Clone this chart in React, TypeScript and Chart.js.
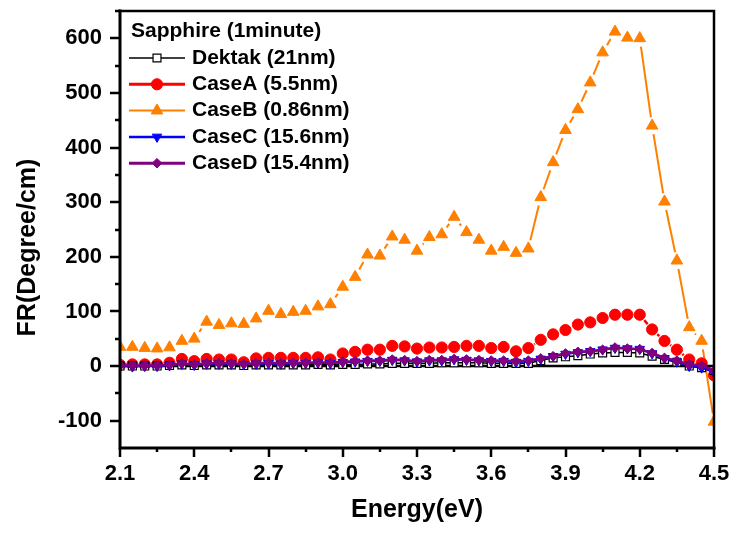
import React, { useEffect, useRef } from 'react';
import { Chart, registerables } from 'chart.js';
import { drawPoint } from 'chart.js/helpers';

Chart.register(...registerables);

// Photon energy (eV)
const energy = [
  2.1, 2.15, 2.2, 2.25, 2.3, 2.35, 2.4, 2.45, 2.5, 2.55, 2.6, 2.65, 2.7, 2.75, 2.8, 2.85, 2.9, 2.95,
  3.0, 3.05, 3.1, 3.15, 3.2, 3.25, 3.3, 3.35, 3.4, 3.45, 3.5, 3.55, 3.6, 3.65, 3.7, 3.75,
  3.8, 3.85, 3.9, 3.95, 4.0, 4.05, 4.1, 4.15, 4.2, 4.25, 4.3, 4.35, 4.4, 4.45, 4.5,
];

// Faraday rotation (Degree/cm) for each thickness estimate
const dektak = [
  0, 0, 0, 0, 1, 2, 1, 2, 2, 2, 1, 2, 2, 2, 2, 2, 3, 2,
  3, 3, 4, 4, 5, 5, 5, 5, 6, 6, 6, 6, 5, 5, 5, 5,
  10, 15, 17, 19, 22, 24, 25, 25, 24, 18, 12, 7, 0, -3, -8,
];
const caseA = [
  2, 3, 3, 3, 6, 13, 9, 13, 12, 12, 7, 14, 15, 15, 15, 15, 16, 12,
  23, 26, 30, 30, 37, 36, 32, 34, 34, 35, 37, 37, 33, 35, 27, 33,
  48, 58, 66, 76, 80, 88, 94, 94, 94, 67, 46, 30, 12, 5, -17,
];
const caseB = [
  35, 35, 33, 32, 34, 46, 50, 81, 75, 78, 77, 87, 101, 95, 99, 101, 109, 113,
  145, 163, 204, 202, 237, 231, 211, 236, 241, 273, 245, 231, 211, 218, 207, 215,
  309, 373, 432, 470, 519, 574, 612, 601, 600, 440, 301, 193, 71, 46, -102,
];
const caseC = [
  0, -1, 0, 0, 1, 4, 2, 4, 4, 4, 3, 4, 5, 4, 5, 5, 6, 5,
  7, 8, 9, 9, 11, 10, 8, 10, 10, 12, 11, 10, 9, 9, 7, 9,
  13, 18, 22, 25, 27, 30, 33, 32, 31, 23, 14, 8, 0, -3, -11,
];
const caseD = [
  1, 1, 1, 1, 2, 5, 3, 5, 5, 5, 4, 5, 6, 5, 6, 6, 7, 6,
  8, 9, 10, 10, 12, 11, 9, 11, 11, 13, 12, 11, 10, 10, 9, 10,
  14, 18, 23, 26, 27, 30, 34, 32, 31, 24, 15, 10, 3, 1, -8,
];

const seriesLabels = ['Dektak (21nm)', 'CaseA (5.5nm)', 'CaseB (0.86nm)', 'CaseC (15.6nm)', 'CaseD (15.4nm)'];
const legendTitle = 'Sapphire (1minute)';
const xTitle = 'Energy(eV)';
const yTitle = 'FR(Degree/cm)';

const xMajorTicks = [2.1, 2.4, 2.7, 3.0, 3.3, 3.6, 3.9, 4.2, 4.5];
const yMajorTicks = [-100, 0, 100, 200, 300, 400, 500, 600];
const xRange = [2.1, 4.5];
const yRange = [-150, 650];

const FONT = '"Liberation Sans", Arial, Helvetica, sans-serif';

const toPoints = (vals: number[]) => vals.map((v, i) => ({ x: energy[i], y: v }));

// Line segments that stop short of the markers at both ends
const gapped = (gap: number) => {
  const segLen = (c: any) => Math.hypot(c.p1.x - c.p0.x, c.p1.y - c.p0.y);
  return {
    borderDash: (c: any) => {
      const len = segLen(c);
      const dash = Math.max(len - 2 * gap, 0);
      return [dash, len - dash + 0.0001];
    },
    borderDashOffset: (c: any) => {
      const len = segLen(c);
      return len > 2 * gap ? len - gap : 0;
    },
  };
};

const isMajor = (v: number, list: number[]) => list.some((m) => Math.abs(m - v) < 1e-6);

const axesPlugin = {
  id: 'axesDecor',
  beforeDatasetsDraw(chart: any) {
    const { ctx, chartArea: a, scales } = chart;
    const y0 = scales.y.getPixelForValue(0);
    ctx.save();
    ctx.strokeStyle = '#000';
    ctx.lineWidth = 2.5;
    ctx.beginPath();
    ctx.moveTo(a.left, y0);
    ctx.lineTo(a.right, y0);
    ctx.stroke();
    ctx.restore();
  },
  afterDraw(chart: any) {
    const { ctx, chartArea: a, scales } = chart;
    const { x, y } = scales;
    ctx.save();
    ctx.strokeStyle = '#000';
    ctx.lineCap = 'square';
    // frame
    ctx.lineWidth = 2.5;
    ctx.beginPath();
    ctx.moveTo(a.left, a.top);
    ctx.lineTo(a.right, a.top);
    ctx.lineTo(a.right, a.bottom);
    ctx.stroke();
    ctx.lineWidth = 3;
    ctx.beginPath();
    ctx.moveTo(a.left, a.top);
    ctx.lineTo(a.left, a.bottom);
    ctx.lineTo(a.right, a.bottom);
    ctx.stroke();
    // tick marks, outward
    ctx.lineCap = 'butt';
    ctx.lineWidth = 2.5;
    ctx.beginPath();
    y.ticks.forEach((t: any) => {
      if (t.value <= yRange[0]) return;
      const py = Math.round(y.getPixelForValue(t.value));
      const len = isMajor(t.value, yMajorTicks) ? 10 : 5;
      ctx.moveTo(a.left, py);
      ctx.lineTo(a.left - len, py);
    });
    x.ticks.forEach((t: any) => {
      const px = Math.round(x.getPixelForValue(t.value));
      const len = isMajor(t.value, xMajorTicks) ? 9 : 4;
      ctx.moveTo(px, a.bottom);
      ctx.lineTo(px, a.bottom + len);
    });
    ctx.stroke();

    // axis titles
    ctx.fillStyle = '#000';
    ctx.font = `bold 25px ${FONT}`;
    ctx.textAlign = 'center';
    ctx.textBaseline = 'alphabetic';
    ctx.fillText(xTitle, (a.left + a.right) / 2, 517);
    ctx.save();
    ctx.translate(35, (a.top + a.bottom) / 2 + 18);
    ctx.rotate(-Math.PI / 2);
    ctx.fillText(yTitle, 0, 0);
    ctx.restore();

    // legend
    ctx.font = `bold 21px ${FONT}`;
    ctx.textAlign = 'left';
    ctx.textBaseline = 'middle';
    ctx.fillText(legendTitle, 131, 31);
    chart.data.datasets.forEach((ds: any, i: number) => {
      const ly = 58 + i * 26.3;
      ctx.setLineDash([]);
      ctx.strokeStyle = ds.borderColor;
      ctx.lineWidth = ds.legendLineWidth;
      ctx.beginPath();
      ctx.moveTo(129, ly);
      ctx.lineTo(185, ly);
      ctx.stroke();
      ctx.fillStyle = ds.pointBackgroundColor;
      ctx.strokeStyle = ds.pointBorderColor;
      ctx.lineWidth = ds.pointBorderWidth;
      drawPoint(
        ctx,
        {
          pointStyle: ds.pointStyle,
          rotation: ds.pointRotation || 0,
          radius: ds.pointRadius,
          borderWidth: ds.pointBorderWidth,
        } as any,
        157,
        ly,
      );
      ctx.fillStyle = '#000';
      ctx.fillText(ds.label, 192, ly);
    });
    ctx.restore();
  },
};

export default function App() {
  const canvasRef = useRef<HTMLCanvasElement | null>(null);

  useEffect(() => {
    const canvas = canvasRef.current;
    if (!canvas) return;

    const common = { clip: 0, tension: 0, pointHoverRadius: 0 };

    const chart = new Chart(canvas, {
      type: 'line',
      data: {
        datasets: [
          {
            ...common,
            label: seriesLabels[0],
            data: toPoints(dektak),
            borderColor: '#000000',
            borderWidth: 1.5,
            legendLineWidth: 1.5,
            pointStyle: 'rect',
            pointRadius: 5.6,
            pointBackgroundColor: '#ffffff',
            pointBorderColor: '#000000',
            pointBorderWidth: 1.2,
            order: 2,
          } as any,
          {
            ...common,
            label: seriesLabels[1],
            data: toPoints(caseA),
            borderColor: '#ff0000',
            borderWidth: 2.5,
            legendLineWidth: 3,
            pointStyle: 'circle',
            pointRadius: 5.6,
            pointBackgroundColor: '#ff0000',
            pointBorderColor: '#ff0000',
            pointBorderWidth: 1,
            segment: gapped(7),
            order: 3,
          } as any,
          {
            ...common,
            label: seriesLabels[2],
            data: toPoints(caseB),
            borderColor: '#ff8000',
            borderWidth: 2,
            legendLineWidth: 2,
            pointStyle: 'triangle',
            pointRadius: 6.7,
            pointBackgroundColor: '#ff8000',
            pointBorderColor: '#ff8000',
            pointBorderWidth: 1,
            segment: gapped(8.5),
            order: 4,
          } as any,
          {
            ...common,
            label: seriesLabels[3],
            data: toPoints(caseC),
            borderColor: '#0000ff',
            borderWidth: 2,
            legendLineWidth: 2.5,
            pointStyle: 'triangle',
            pointRotation: 180,
            pointRadius: 5.5,
            pointBackgroundColor: '#0000ff',
            pointBorderColor: '#0000ff',
            pointBorderWidth: 1,
            order: 1,
          } as any,
          {
            ...common,
            label: seriesLabels[4],
            data: toPoints(caseD),
            borderColor: '#800080',
            borderWidth: 2.5,
            legendLineWidth: 3,
            pointStyle: 'rectRot',
            pointRadius: 4.8,
            pointBackgroundColor: '#800080',
            pointBorderColor: '#800080',
            pointBorderWidth: 1,
            order: 0,
          } as any,
        ],
      },
      options: {
        responsive: false,
        animation: false,
        events: [],
        layout: { padding: { left: 0, top: 11, right: 19, bottom: 0 } },
        plugins: {
          legend: { display: false },
          tooltip: { enabled: false },
        },
        scales: {
          x: {
            type: 'linear',
            min: xRange[0],
            max: xRange[1],
            border: { display: false },
            grid: { display: false, drawTicks: false, tickLength: 0 },
            afterBuildTicks: (scale: any) => {
              const ticks: { value: number }[] = [];
              xMajorTicks.forEach((v, i) => {
                ticks.push({ value: v });
                if (i < xMajorTicks.length - 1) ticks.push({ value: (v + xMajorTicks[i + 1]) / 2 });
              });
              scale.ticks = ticks;
            },
            afterFit: (scale: any) => {
              scale.height = 87;
              scale.paddingLeft = 0;
              scale.paddingRight = 0;
              scale.paddingTop = 0;
              scale.paddingBottom = 0;
            },
            ticks: {
              autoSkip: false,
              maxRotation: 0,
              padding: 13,
              color: '#000',
              font: { family: FONT, size: 22, weight: 'bold' },
              callback: (v: any) => (isMajor(Number(v), xMajorTicks) ? Number(v).toFixed(1) : ''),
            },
          },
          y: {
            type: 'linear',
            min: yRange[0],
            max: yRange[1],
            border: { display: false },
            grid: { display: false, drawTicks: false, tickLength: 0 },
            afterFit: (scale: any) => {
              scale.width = 120;
              scale.paddingLeft = 0;
              scale.paddingRight = 0;
              scale.paddingTop = 0;
              scale.paddingBottom = 0;
            },
            ticks: {
              stepSize: 50,
              autoSkip: false,
              padding: 18,
              color: '#000',
              font: { family: FONT, size: 22, weight: 'bold' },
              callback: (v: any) => (isMajor(Number(v), yMajorTicks) ? String(v) : ''),
            },
          },
        },
      },
      plugins: [axesPlugin],
    } as any);

    return () => chart.destroy();
  }, []);

  return (
    <div style={{ position: 'fixed', left: 0, top: 0, width: 733, height: 535, background: '#fff' }}>
      <canvas ref={canvasRef} width={733} height={535} style={{ display: 'block' }} />
    </div>
  );
}
